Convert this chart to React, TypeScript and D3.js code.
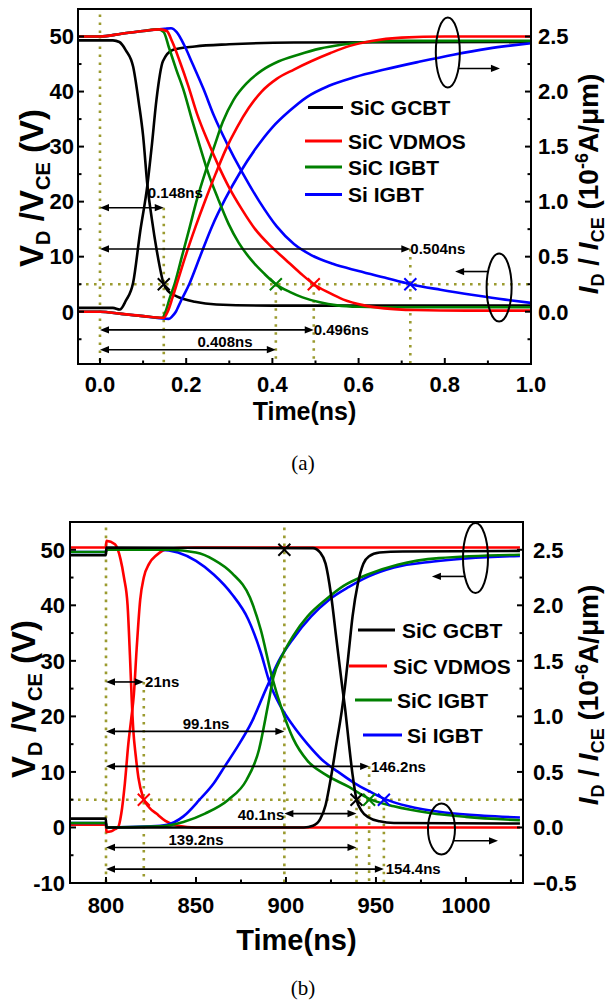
import React from "react";
import * as d3 from "d3";

type Pt = [number, number];

// ================= Panel (a): turn-on (time in ns) =================
const aXTicks = [0, 0.2, 0.4, 0.6, 0.8, 1.0];
const aXMinor = [0.1, 0.3, 0.5, 0.7, 0.9];
const aYTicks = [0, 10, 20, 30, 40, 50];
const aYMinor = [-5, 5, 15, 25, 35, 45];
const aRTicks = [0, 0.5, 1.0, 1.5, 2.0, 2.5];
const aRMinor = [-0.25, 0.25, 0.75, 1.25, 1.75, 2.25];

// voltages (V)
const aGcbtV: Pt[] = [[-0.05,49.3],[0.03,49.3],[0.045,49],[0.06,47.5],[0.077,44.5],[0.09,38],[0.1,32],[0.11,23],[0.12,17],[0.132,11],[0.148,5],[0.16,3.6],[0.178,2.8],[0.22,1.8],[0.27,1.3],[0.4,1.1],[1.0,1.1]];
const aVdmosV: Pt[] = [[-0.05,50],[0,50],[0.05,50.5],[0.1,51],[0.14,51.3],[0.155,51],[0.168,49],[0.185,45.5],[0.205,41],[0.225,36],[0.25,31],[0.275,26.5],[0.3,22.5],[0.33,18.5],[0.36,15],[0.395,12],[0.43,9.5],[0.465,7],[0.496,5],[0.53,3.5],[0.565,2.2],[0.61,1.2],[0.66,0.6],[0.73,0.3],[0.85,0.2],[1.0,0.2]];
const aSicIgbtV: Pt[] = [[-0.05,50],[0,50],[0.05,50.5],[0.1,51],[0.135,51.3],[0.148,50.8],[0.16,48],[0.177,44],[0.195,40],[0.213,35],[0.232,30],[0.252,25],[0.274,20.5],[0.298,16],[0.322,12.5],[0.35,9.5],[0.38,7],[0.408,5],[0.44,3.6],[0.47,2.6],[0.51,1.7],[0.55,1.15],[0.6,0.9],[0.7,0.8],[1.0,0.8]];
const aSiIgbtV: Pt[] = [[-0.05,50],[0,50],[0.05,50.5],[0.1,51],[0.15,51.4],[0.165,51.5],[0.178,50.8],[0.195,48.5],[0.215,45],[0.24,40.5],[0.265,35.5],[0.295,30.5],[0.33,25.3],[0.37,20],[0.41,15.5],[0.45,12.3],[0.49,10.3],[0.54,8.7],[0.6,7.4],[0.66,6.2],[0.72,5],[0.79,4],[0.87,3],[0.94,2.2],[1.0,1.6]];
// currents (1e-6 A/um)
const aGcbtI: Pt[] = [[-0.05,0.035],[0.03,0.035],[0.046,0.02],[0.06,0.1],[0.077,0.265],[0.093,0.72],[0.11,1.15],[0.12,1.5],[0.131,1.925],[0.146,2.275],[0.17,2.38],[0.22,2.41],[0.3,2.43],[0.45,2.445],[1.0,2.45]];
const aVdmosI: Pt[] = [[-0.05,0],[0,0],[0.05,-0.02],[0.1,-0.04],[0.148,-0.055],[0.157,0],[0.168,0.125],[0.18,0.275],[0.198,0.5],[0.222,0.775],[0.245,1.02],[0.268,1.25],[0.292,1.475],[0.318,1.675],[0.345,1.85],[0.375,2.0],[0.41,2.115],[0.45,2.2],[0.49,2.275],[0.535,2.35],[0.58,2.415],[0.63,2.46],[0.7,2.49],[0.8,2.5],[1.0,2.5]];
const aSicIgbtI: Pt[] = [[-0.05,0],[0,0],[0.05,-0.02],[0.1,-0.04],[0.145,-0.055],[0.152,0],[0.162,0.125],[0.173,0.25],[0.19,0.5],[0.207,0.75],[0.225,1.02],[0.245,1.275],[0.265,1.5],[0.285,1.725],[0.31,1.925],[0.34,2.075],[0.375,2.19],[0.415,2.275],[0.46,2.335],[0.51,2.39],[0.56,2.425],[0.62,2.45],[0.7,2.46],[1.0,2.46]];
const aSiIgbtI: Pt[] = [[-0.05,0],[0,0],[0.05,-0.02],[0.1,-0.04],[0.16,-0.065],[0.168,-0.04],[0.176,0],[0.188,0.1],[0.207,0.25],[0.232,0.5],[0.26,0.775],[0.29,1.02],[0.325,1.265],[0.36,1.475],[0.4,1.675],[0.44,1.825],[0.48,1.95],[0.53,2.05],[0.59,2.13],[0.66,2.2],[0.74,2.27],[0.82,2.335],[0.9,2.39],[1.0,2.44]];

const aMarks = [
  { t: 0.148, v: 5, c: "#000000" },
  { t: 0.408, v: 5, c: "#008000" },
  { t: 0.496, v: 5, c: "#ff0000" },
  { t: 0.72, v: 5, c: "#0000ff" },
];
const aArrows = [
  { x1: 0, x2: 0.148, v: 18.9, label: "0.148ns", lt: 0.111, lv: 20.7, anchor: "start" },
  { x1: 0, x2: 0.72, v: 11.4, label: "0.504ns", lt: 0.72, lv: 10.4, anchor: "start" },
  { x1: 0, x2: 0.496, v: -3.3, label: "0.496ns", lt: 0.496, lv: -4.2, anchor: "start" },
  { x1: 0, x2: 0.408, v: -6.9, label: "0.408ns", lt: 0.29, lv: -6.5, anchor: "middle" },
];
const aVGuides = [
  { t: 0, from: 54, to: -9.5 },
  { t: 0.148, from: 18.9, to: -9.5 },
  { t: 0.408, from: 5, to: -9.5 },
  { t: 0.496, from: 5, to: -9.5 },
  { t: 0.72, from: 11.4, to: -9.5 },
];
const aEllipses = [
  { t: 0.807, v: 47.1, rx: 12, ry: 35, at: 0.928, av: 44.2 },
  { t: 0.926, v: 4.4, rx: 12.5, ry: 34, at: 0.824, av: 7.3 },
];

// ================= Panel (b): turn-off (time in ns) =================
const bXTicks = [800, 850, 900, 950, 1000];
const bXMinor = [825, 875, 925, 975, 1025];
const bYTicks = [-10, 0, 10, 20, 30, 40, 50];
const bYMinor = [-5, 5, 15, 25, 35, 45];
const bRTicks = [-0.5, 0, 0.5, 1.0, 1.5, 2.0, 2.5];
const bRMinor = [-0.25, 0.25, 0.75, 1.25, 1.75, 2.25];

const bGcbtV: Pt[] = [[780,1.6],[799.9,1.6],[800.2,0],[910,0],[915,0.3],[919,1.5],[922,4],[925,9],[928,15],[931,21],[933,26],[935,32],[937,38],[940,44],[943,47.5],[946,48.8],[952,49.5],[965,49.7],[1030,49.8]];
const bVdmosV: Pt[] = [[780,0.5],[799.9,0.5],[800.3,-0.8],[803,-0.7],[805,-0.3],[806.7,0],[808.5,2.5],[810.5,8],[812.4,15],[814,19.5],[815.5,24],[817,32],[819,41],[821,45],[824,47.5],[828,49],[835,50.2],[850,50.4],[1030,50.4]];
const bSicIgbtV: Pt[] = [[780,0.8],[799.9,0.8],[800.3,0],[830,0.2],[843,1],[855,2.5],[868,5],[878,8.5],[885,14],[890,22],[893,27],[898,31],[904,34.5],[912,38],[922,41],[932,43.5],[945,45.5],[962,47.3],[985,48.5],[1030,49.1]];
const bSiIgbtV: Pt[] = [[780,0.8],[799.9,0.8],[800.3,0],[825,0.2],[834,0.5],[843,2],[852,5],[860,8],[866,11],[873,14.5],[881,19],[889,25],[896,30],[904,34],[914,38],[924,41],[935,43.3],[946,45.2],[960,46.8],[982,47.9],[1030,48.9]];
const bGcbtI: Pt[] = [[780,2.45],[799.9,2.45],[800.2,2.52],[915,2.515],[919,2.475],[922,2.375],[925,2.1],[928,1.7],[931,1.3],[933,1.05],[935,0.75],[937,0.475],[939.2,0.25],[942,0.15],[946,0.09],[952,0.055],[960,0.04],[1030,0.035]];
const bVdmosI: Pt[] = [[780,2.52],[799.9,2.52],[800.3,2.58],[805,2.55],[808,2.42],[810,2.25],[812,2.0],[813.3,1.55],[814.3,1.15],[815.2,0.87],[816.5,0.65],[818,0.45],[820.6,0.27],[824,0.18],[828,0.125],[833,0.06],[840,0.015],[850,0],[1030,0]];
const bSicIgbtI: Pt[] = [[780,2.48],[799.9,2.48],[800.3,2.5],[835,2.5],[850,2.475],[860,2.41],[870,2.29],[880,2.07],[886,1.78],[892,1.37],[898,1.05],[904,0.8],[912,0.6],[922,0.475],[935,0.365],[946,0.26],[960,0.19],[980,0.13],[1000,0.095],[1030,0.065]];
const bSiIgbtI: Pt[] = [[780,2.48],[799.9,2.48],[800.3,2.5],[830,2.5],[840,2.475],[850,2.4],[860,2.275],[870,2.1],[879,1.875],[886,1.575],[891,1.3],[897,1.09],[904,0.915],[912,0.75],[920,0.61],[929,0.5],[938,0.4],[947,0.32],[954.4,0.26],[968,0.19],[988,0.135],[1010,0.105],[1030,0.09]];

const bMarks = [
  { t: 821, v: 5, c: "#ff0000" },
  { t: 899.1, v: 50, c: "#000000" },
  { t: 939.2, v: 5, c: "#000000" },
  { t: 946.2, v: 5, c: "#008000" },
  { t: 954.4, v: 5, c: "#0000ff" },
];
const bArrows = [
  { x1: 800, x2: 821, v: 26.2, label: "21ns", lt: 821.7, lv: 25.3, anchor: "start" },
  { x1: 800, x2: 899.1, v: 17.3, label: "99.1ns", lt: 855.6, lv: 17.7, anchor: "middle" },
  { x1: 800, x2: 946.2, v: 11, label: "146.2ns", lt: 947.2, lv: 10, anchor: "start" },
  { x1: 899.1, x2: 939.2, v: 2.5, label: "40.1ns", lt: 899.1, lv: 1.3, anchor: "end" },
  { x1: 800, x2: 939.2, v: -3.6, label: "139.2ns", lt: 850, lv: -3.2, anchor: "middle" },
  { x1: 800, x2: 954.4, v: -7.5, label: "154.4ns", lt: 955.4, lv: -8.4, anchor: "start" },
];
const bVGuides = [
  { t: 800, from: 54, to: -10 },
  { t: 821, from: 26.2, to: -10 },
  { t: 899.1, from: 54, to: -10 },
  { t: 939.2, from: 5, to: -10 },
  { t: 946.2, from: 11, to: -10 },
  { t: 954.4, from: 5, to: -10 },
];
const bEllipses = [
  { t: 1005.3, v: 48.5, rx: 12.5, ry: 35, at: 981.1, av: 45.2 },
  { t: 986.4, v: -0.27, rx: 13.5, ry: 25.5, at: 1017.8, av: -2.4 },
];

const seriesNames = ["SiC GCBT", "SiC VDMOS", "SiC IGBT", "Si IGBT"];
const seriesColors = ["#000000", "#ff0000", "#008000", "#0000ff"];

const FONT = "'Liberation Sans', Arial, Helvetica, sans-serif";
const GUIDE = "#9b9b30";

type Cfg = {
  left: number; right: number; top: number; bottom: number;
  xDomain: [number, number]; yDomain: [number, number];
  xTicks: number[]; xMinor: number[]; xFmt: (d: number) => string;
  yTicks: number[]; yMinor: number[]; rTicks: number[]; rMinor: number[];
  curves: { data: Pt[]; axis: "L" | "R"; color: string }[];
  marks: { t: number; v: number; c: string }[];
  arrows: { x1: number; x2: number; v: number; label: string; lt: number; lv: number; anchor: string }[];
  guides: { t: number; from: number; to: number }[];
  ellipses: { t: number; v: number; rx: number; ry: number; at: number; av: number }[];
  legend: { lx1: number; lx2: number; tx: number; y: number }[];
  xTickBase: number; titleBase: number; titleSize: number;
  leftLabelX: number; rightLabelX: number; leftLabelY: number; rightLabelY: number;
  lGap: number; rGap: number; caption: string; captionY: number; id: string;
};

function ArrowHead({ x, y, dir }: { x: number; y: number; dir: number }) {
  const L = 9, W = 3.6;
  return <polygon points={`${x},${y} ${x - dir * L},${y - W} ${x - dir * L},${y + W}`} fill="#000" />;
}

function Panel({ c }: { c: Cfg }) {
  const x = d3.scaleLinear().domain(c.xDomain).range([c.left, c.right]);
  const yL = d3.scaleLinear().domain(c.yDomain).range([c.bottom, c.top]);
  const yR = d3.scaleLinear().domain([c.yDomain[0] / 20, c.yDomain[1] / 20]).range([c.bottom, c.top]);
  const mk = (ys: d3.ScaleLinear<number, number>) =>
    d3.line<Pt>().x((d) => x(d[0])).y((d) => ys(d[1])).curve(d3.curveMonotoneX);
  const lineL = mk(yL), lineR = mk(yR);
  const txt = { fontFamily: FONT, fontWeight: 700 as const };
  return (
    <g>
      <defs>
        <clipPath id={c.id}>
          <rect x={c.left} y={c.top} width={c.right - c.left} height={c.bottom - c.top} />
        </clipPath>
      </defs>
      <g stroke={GUIDE} strokeWidth={2.6} strokeDasharray="2.6,5.4" fill="none">
        <line x1={c.left} x2={c.right} y1={yL(5)} y2={yL(5)} />
        {c.guides.map((g, i) => (
          <line key={i} x1={x(g.t)} x2={x(g.t)} y1={yL(g.from)} y2={yL(g.to)} />
        ))}
      </g>
      <g clipPath={`url(#${c.id})`} fill="none" strokeWidth={2.6} strokeLinejoin="round">
        {c.curves.map((s, i) => (
          <path key={i} d={(s.axis === "L" ? lineL : lineR)(s.data) || ""} stroke={s.color} />
        ))}
      </g>
      {c.marks.map((m, i) => {
        const cx = x(m.t), cy = yL(m.v), r = 6;
        return (
          <path key={i} d={`M${cx - r},${cy - r}L${cx + r},${cy + r}M${cx - r},${cy + r}L${cx + r},${cy - r}`}
            stroke={m.c} strokeWidth={2} fill="none" />
        );
      })}
      {c.arrows.map((a, i) => {
        const y = yL(a.v), xa = x(a.x1), xb = x(a.x2);
        return (
          <g key={i}>
            <line x1={xa + 6} x2={xb - 6} y1={y} y2={y} stroke="#000" strokeWidth={1.6} />
            <ArrowHead x={xa} y={y} dir={-1} />
            <ArrowHead x={xb} y={y} dir={1} />
            <text x={x(a.lt)} y={yL(a.lv)} textAnchor={a.anchor as any} fontSize={15} {...txt}>{a.label}</text>
          </g>
        );
      })}
      {c.ellipses.map((e, i) => {
        const cx = x(e.t), cy = yL(e.v), ay = yL(e.av), tx = x(e.at);
        const dir = tx > cx ? 1 : -1;
        const dx = e.rx * Math.sqrt(Math.max(0, 1 - ((ay - cy) / e.ry) ** 2));
        const sx = cx + dir * dx;
        return (
          <g key={i}>
            <ellipse cx={cx} cy={cy} rx={e.rx} ry={e.ry} fill="none" stroke="#000" strokeWidth={2} />
            <line x1={sx} x2={tx - dir * 6} y1={ay} y2={ay} stroke="#000" strokeWidth={1.6} />
            <ArrowHead x={tx} y={ay} dir={dir} />
          </g>
        );
      })}
      {c.legend.map((l, i) => (
        <g key={i}>
          <line x1={l.lx1} x2={l.lx2} y1={l.y} y2={l.y} stroke={seriesColors[i]} strokeWidth={3} />
          <text x={l.tx} y={l.y + 7.5} fontSize={21} {...txt}>{seriesNames[i]}</text>
        </g>
      ))}
      <rect x={c.left} y={c.top} width={c.right - c.left} height={c.bottom - c.top} fill="none" stroke="#000" strokeWidth={2} />
      {c.xTicks.map((t) => (
        <g key={"xt" + t}>
          <line x1={x(t)} x2={x(t)} y1={c.bottom} y2={c.bottom - 6} stroke="#000" strokeWidth={2} />
          <text x={x(t)} y={c.xTickBase} textAnchor="middle" fontSize={22} {...txt}>{c.xFmt(t)}</text>
        </g>
      ))}
      {c.xMinor.map((t) => (
        <line key={"xm" + t} x1={x(t)} x2={x(t)} y1={c.bottom} y2={c.bottom - 3.5} stroke="#000" strokeWidth={2} />
      ))}
      {c.yTicks.map((t) => (
        <g key={"yt" + t}>
          <line x1={c.left} x2={c.left + 6} y1={yL(t)} y2={yL(t)} stroke="#000" strokeWidth={2} />
          <text x={c.left - c.lGap} y={yL(t) + 7.8} textAnchor="end" fontSize={22} {...txt}>{String(t)}</text>
        </g>
      ))}
      {c.yMinor.map((t) => (
        <line key={"ym" + t} x1={c.left} x2={c.left + 3.5} y1={yL(t)} y2={yL(t)} stroke="#000" strokeWidth={2} />
      ))}
      {c.rTicks.map((t) => (
        <g key={"rt" + t}>
          <line x1={c.right} x2={c.right - 6} y1={yR(t)} y2={yR(t)} stroke="#000" strokeWidth={2} />
          <text x={c.right + c.rGap} y={yR(t) + 7.8} textAnchor="start" fontSize={22} {...txt}>{d3.format(".1f")(t)}</text>
        </g>
      ))}
      {c.rMinor.map((t) => (
        <line key={"rm" + t} x1={c.right} x2={c.right - 3.5} y1={yR(t)} y2={yR(t)} stroke="#000" strokeWidth={2} />
      ))}
      <text x={(c.left + c.right) / 2} y={c.titleBase} textAnchor="middle" fontSize={c.titleSize} {...txt}>Time(ns)</text>
      <text transform={`translate(${c.leftLabelX},${c.leftLabelY}) rotate(-90)`} textAnchor="middle" fontSize={33} {...txt}>
        <tspan>V</tspan>
        <tspan dy={7} fontSize={20}>D</tspan>
        <tspan dy={-7}>{" /V"}</tspan>
        <tspan dy={7} fontSize={20}>CE</tspan>
        <tspan dy={-7}>{" (V)"}</tspan>
      </text>
      <text transform={`translate(${c.rightLabelX},${c.rightLabelY}) rotate(-90)`} textAnchor="middle" fontSize={28} {...txt}>
        <tspan fontStyle="italic">I</tspan>
        <tspan dy={6} fontSize={18}>D</tspan>
        <tspan dy={-6}>{" / "}</tspan>
        <tspan fontStyle="italic">I</tspan>
        <tspan dy={6} fontSize={18}>CE</tspan>
        <tspan dy={-6}>{" (10"}</tspan>
        <tspan dy={-10} fontSize={18}>-6</tspan>
        <tspan dy={10}>A/μm)</tspan>
      </text>
      <text x={303} y={c.captionY} textAnchor="middle" fontSize={21}
        fontFamily="'Liberation Serif', 'Times New Roman', serif">{c.caption}</text>
    </g>
  );
}

const cfgA: Cfg = {
  id: "clipA", left: 78, right: 531, top: 9, bottom: 364,
  xDomain: [-0.051, 1.0], yDomain: [-9.5, 55],
  xTicks: aXTicks, xMinor: aXMinor, xFmt: d3.format(".1f"),
  yTicks: aYTicks, yMinor: aYMinor, rTicks: aRTicks, rMinor: aRMinor,
  curves: [
    { data: aGcbtV, axis: "L", color: "#000000" },
    { data: aGcbtI, axis: "R", color: "#000000" },
    { data: aSiIgbtV, axis: "L", color: "#0000ff" },
    { data: aSiIgbtI, axis: "R", color: "#0000ff" },
    { data: aSicIgbtV, axis: "L", color: "#008000" },
    { data: aSicIgbtI, axis: "R", color: "#008000" },
    { data: aVdmosV, axis: "L", color: "#ff0000" },
    { data: aVdmosI, axis: "R", color: "#ff0000" },
  ],
  marks: aMarks, arrows: aArrows, guides: aVGuides, ellipses: aEllipses,
  legend: [
    { lx1: 308, lx2: 343, tx: 350, y: 107.5 },
    { lx1: 305, lx2: 342, tx: 348, y: 141 },
    { lx1: 305, lx2: 342, tx: 348, y: 167 },
    { lx1: 305, lx2: 342, tx: 348, y: 194.5 },
  ],
  xTickBase: 392, titleBase: 420, titleSize: 25,
  leftLabelX: 43, rightLabelX: 598, leftLabelY: 188, rightLabelY: 184, lGap: 4, rGap: 7,
  caption: "(a)", captionY: 470,
};

const cfgB: Cfg = {
  id: "clipB", left: 70, right: 523, top: 522, bottom: 883,
  xDomain: [780, 1031.7], yDomain: [-10, 55],
  xTicks: bXTicks, xMinor: bXMinor, xFmt: d3.format("d"),
  yTicks: bYTicks, yMinor: bYMinor, rTicks: bRTicks, rMinor: bRMinor,
  curves: [
    { data: bVdmosV, axis: "L", color: "#ff0000" },
    { data: bVdmosI, axis: "R", color: "#ff0000" },
    { data: bSiIgbtV, axis: "L", color: "#0000ff" },
    { data: bSiIgbtI, axis: "R", color: "#0000ff" },
    { data: bSicIgbtV, axis: "L", color: "#008000" },
    { data: bSicIgbtI, axis: "R", color: "#008000" },
    { data: bGcbtV, axis: "L", color: "#000000" },
    { data: bGcbtI, axis: "R", color: "#000000" },
  ],
  marks: bMarks, arrows: bArrows, guides: bVGuides, ellipses: bEllipses,
  legend: [
    { lx1: 358, lx2: 395, tx: 402, y: 630 },
    { lx1: 349, lx2: 387, tx: 393, y: 666 },
    { lx1: 355, lx2: 392, tx: 397, y: 700 },
    { lx1: 363, lx2: 402, tx: 407, y: 735 },
  ],
  xTickBase: 913, titleBase: 950, titleSize: 29,
  leftLabelX: 35, rightLabelX: 598, leftLabelY: 699, rightLabelY: 695, lGap: 5, rGap: 10,
  caption: "(b)", captionY: 995,
};

export default function App() {
  return (
    <svg width={607} height={1008} viewBox="0 0 607 1008"
      style={{ position: "absolute", left: 0, top: 0, background: "#fff" }}>
      <rect width={607} height={1008} fill="#fff" />
      <Panel c={cfgA} />
      <Panel c={cfgB} />
    </svg>
  );
}
